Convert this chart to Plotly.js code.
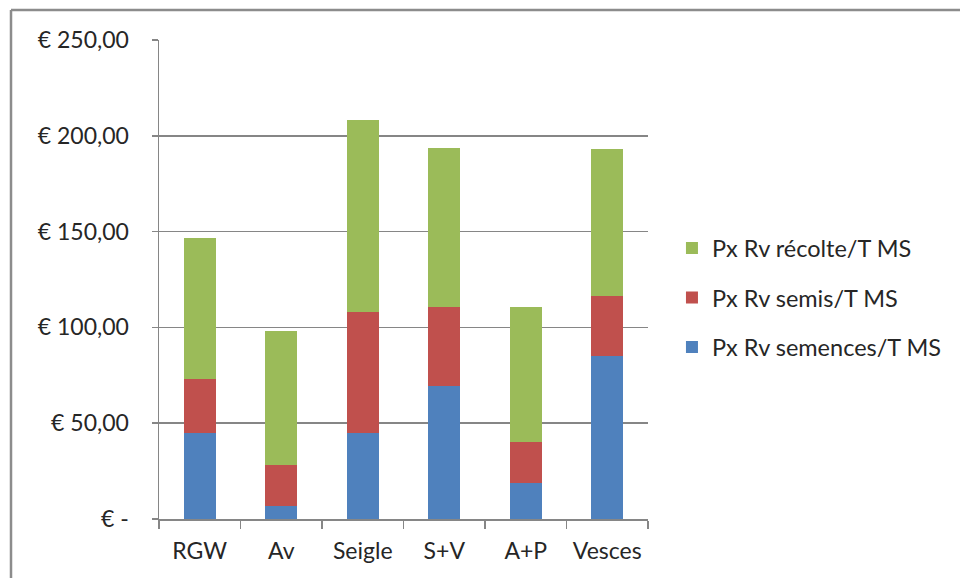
<!DOCTYPE html>
<html>
<head>
<meta charset="utf-8">
<script src="https://cdn.plot.ly/plotly-3.0.1.min.js"></script>
<style>html,body{margin:0;padding:0;background:#fff;}#chart{width:960px;height:578px;}</style>
</head>
<body>
<div id="chart"></div>
<script>
const categories = ["RGW", "Av", "Seigle", "S+V", "A+P", "Vesces"];
const semences = [44.8, 6.9, 44.8, 69.6, 18.8, 85.1];
const semis = [28.1, 21.2, 63.5, 40.8, 21.5, 31.2];
const recolte = [74.0, 70.1, 99.7, 83.1, 70.1, 76.7];
const seriesNames = ["Px Rv semences/T MS", "Px Rv semis/T MS", "Px Rv récolte/T MS"];
const yTickVals = [0, 50, 100, 150, 200, 250];
const yTickText = ["€ -", "€ 50,00", "€ 100,00", "€ 150,00", "€ 200,00", "€ 250,00"];

const colors = ["#4F81BD", "#C0504D", "#9BBB59"];
const seriesData = [semences, semis, recolte];

const traces = seriesData.map((vals, i) => ({
  type: "bar",
  name: seriesNames[i],
  x: categories,
  y: vals,
  legendgroup: "g" + i,
  legendrank: 3 - i,
  marker: { color: colors[i], line: { width: 0 } },
  hoverinfo: "skip"
}));

const W = 489, H = 479.3;
const layout = {
  width: 960,
  height: 578,
  barmode: "stack",
  bargap: 0.61,
  paper_bgcolor: "#ffffff",
  plot_bgcolor: "#ffffff",
  font: { family: "Lato, 'Open Sans', sans-serif", size: 23, color: "#262626" },
  margin: { l: 159, r: 312, t: 40, b: 58.7, pad: 0 },
  showlegend: true,
  legend: {
    x: 1.049, xanchor: "left",
    y: 0.462, yanchor: "middle",
    traceorder: "grouped",
    tracegroupgap: 16,
    font: { size: 23.5, color: "#262626" },
    itemwidth: 30,
    bgcolor: "rgba(0,0,0,0)"
  },
  xaxis: {
    type: "category",
    showgrid: false,
    showline: true,
    linecolor: "#868686",
    linewidth: 1.5,
    ticks: "outside",
    tickson: "boundaries",
    ticklen: 8,
    tickcolor: "#868686",
    tickwidth: 1.5,
    ticklabelstandoff: 11,
    tickfont: { size: 23 },
    zeroline: false
  },
  yaxis: {
    range: [0, 250],
    tickvals: yTickVals,
    ticktext: yTickText,
    showgrid: true,
    gridcolor: "#868686",
    gridwidth: 1.5,
    showline: true,
    linecolor: "#868686",
    linewidth: 1.5,
    ticks: "outside",
    ticklen: 6,
    tickcolor: "#868686",
    tickwidth: 1.5,
    ticklabelstandoff: 18,
    tickfont: { size: 23 },
    zeroline: false
  },
  shapes: [
    { type: "line", xref: "paper", yref: "paper", x0: (11 - 159) / W, x1: (11 - 159) / W, y0: (519.3 - 10) / H, y1: (519.3 - 600) / H, line: { color: "#8c8c8c", width: 2.5 } },
    { type: "line", xref: "paper", yref: "paper", x0: (11 - 159) / W, x1: (1000 - 159) / W, y0: (519.3 - 10) / H, y1: (519.3 - 10) / H, line: { color: "#8c8c8c", width: 2.5 } }
  ]
};

Plotly.newPlot("chart", traces, layout, { displayModeBar: false, staticPlot: true });
</script>
</body>
</html>
